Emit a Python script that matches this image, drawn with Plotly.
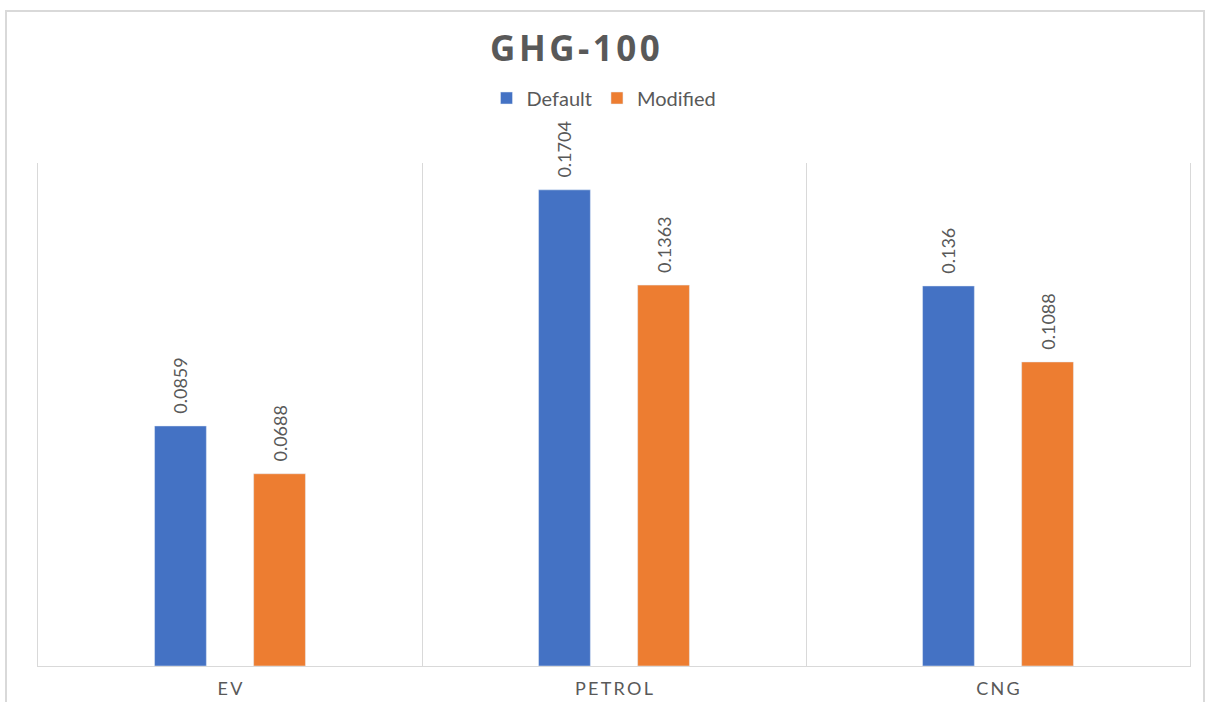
import plotly.graph_objects as go

categories = ["EV", "PETROL", "CNG"]
tick_labels = ["E\u2009V", "P\u2009E\u2009T\u2009R\u2009O\u2009L", "C\u2009N\u2009G"]
default_vals = [0.0859, 0.1704, 0.136]
modified_vals = [0.0688, 0.1363, 0.1088]

BLUE = "#4472C4"
ORANGE = "#ED7D31"
GRAY_TXT = "#595959"
GRID = "#D9D9D9"
FONT = "Lato"
PAD = "\u00a0\u00a0"  # gap between bar top and rotated label

fig = go.Figure()
fig.add_trace(go.Bar(
    name="Default", x=categories, y=default_vals, marker_color=BLUE,
    text=[PAD + str(v) for v in default_vals], textposition="outside", textangle=-90,
    textfont=dict(color=GRAY_TXT, size=18, family=FONT), cliponaxis=False,
    constraintext="none",
))
fig.add_trace(go.Bar(
    name="Modified", x=categories, y=modified_vals, marker_color=ORANGE,
    text=[PAD + str(v) for v in modified_vals], textposition="outside", textangle=-90,
    textfont=dict(color=GRAY_TXT, size=18, family=FONT), cliponaxis=False,
    constraintext="none",
))

fig.update_layout(
    width=1210, height=702,
    margin=dict(l=38, r=20, t=163, b=36, autoexpand=False),
    paper_bgcolor="white", plot_bgcolor="white",
    barmode="group", bargap=0.484, bargroupgap=0.477,
    font=dict(family=FONT, color=GRAY_TXT),
    title=dict(text="<b>" + "\u200a".join("GHG-100") + "</b>", x=575/1210, xanchor="center",
               y=1 - 49/702, yanchor="middle",
               font=dict(size=35, color=GRAY_TXT, family="Open Sans")),
    legend=dict(orientation="h", x=(604-38)/1152, xanchor="center", y=1 + (163-98)/503,
                yanchor="middle", font=dict(size=20, color=GRAY_TXT, family=FONT),
                itemwidth=30, traceorder="normal"),
    showlegend=True,
    uniformtext=dict(mode=False),
)
fig.update_xaxes(
    type="category", categoryorder="array", categoryarray=categories,
    tickvals=categories, ticktext=tick_labels,
    tickson="boundaries", showgrid=True, gridcolor=GRID, gridwidth=1,
    showline=True, linecolor=GRID, linewidth=1, ticks="", zeroline=False,
    tickfont=dict(size=18, color=GRAY_TXT, family=FONT), ticklabelstandoff=6,
    range=[-0.5, 2.5],
)
fig.update_yaxes(range=[0, 0.18], showticklabels=False, ticks="", showgrid=False,
                 zeroline=False, showline=True, mirror=True, linecolor=GRID, linewidth=1)

# outer chart border
fig.add_shape(type="rect", xref="paper", yref="paper",
              x0=(6-38)/1152, x1=(1204-38)/1152, y0=-0.2, y1=(666-11)/503,
              line=dict(color=GRID, width=2), fillcolor="rgba(0,0,0,0)", layer="below")

fig.write_html("out.html")
